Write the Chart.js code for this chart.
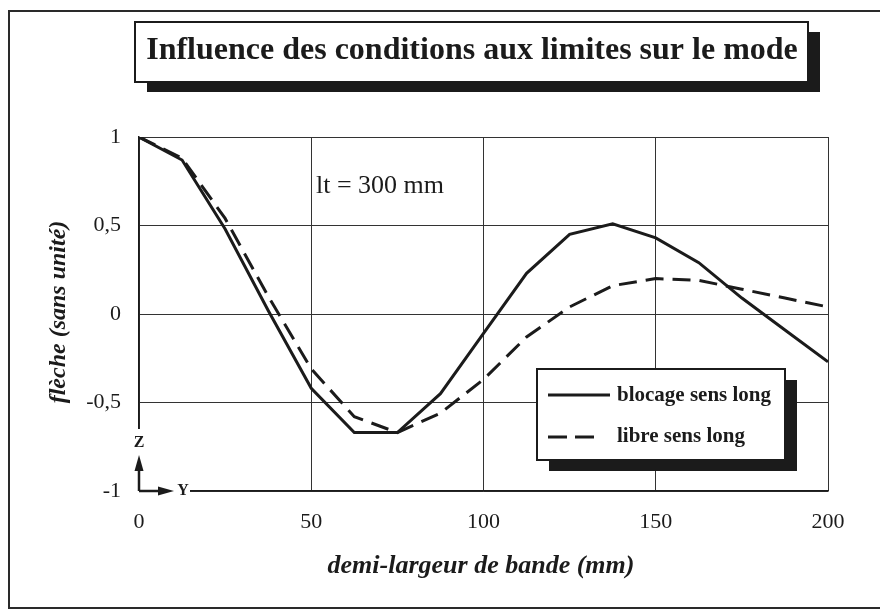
<!DOCTYPE html>
<html lang="fr">
<head>
<meta charset="utf-8">
<title>Influence des conditions aux limites sur le mode</title>
<script src="https://cdn.jsdelivr.net/npm/chart.js@4/dist/chart.umd.min.js"></script>
<style>
    html, body { margin: 0; padding: 0; background: #fff; }
    #wrap { width: 880px; height: 612px; position: relative; }
</style>
</head>
<body>
<div id="wrap"><canvas id="modeChart" width="880" height="612"></canvas></div>
<script>
// abscisses : demi-largeur de bande (mm)
const positions = [0, 12.5, 25, 37.5, 50, 62.5, 75, 87.5, 100, 112.5, 125, 137.5, 150, 162.5, 175, 187.5, 200];
// flèche normalisée, blocage sens long
const blocage = [1, 0.87, 0.48, 0.02, -0.42, -0.67, -0.67, -0.45, -0.11, 0.23, 0.45, 0.51, 0.43, 0.29, 0.09, -0.09, -0.27];
// flèche normalisée, libre sens long
const libre = [1, 0.88, 0.54, 0.1, -0.31, -0.58, -0.67, -0.56, -0.37, -0.13, 0.04, 0.16, 0.2, 0.19, 0.14, 0.09, 0.04];

const xTicks = [0, 50, 100, 150, 200];
const yTicks = [-1, -0.5, 0, 0.5, 1];

const titre = 'Influence des conditions aux limites sur le mode';
const titreX = 'demi-largeur de bande (mm)';
const titreY = 'flèche (sans unité)';
const note = 'lt = 300 mm';
const legende = ['blocage sens long', 'libre sens long'];

const SERIF = '"Liberation Serif", "Times New Roman", serif';
const INK = '#1b1b1b';

// boîte avec ombre portée
function boiteOmbre(ctx, x, y, w, h, dx, dy) {
    ctx.fillStyle = INK;
    ctx.fillRect(x + dx, y + dy, w, h);
    ctx.fillStyle = '#fff';
    ctx.fillRect(x, y, w, h);
    ctx.strokeStyle = INK;
    ctx.lineWidth = 2;
    ctx.strokeRect(x, y, w, h);
}

function fleche(ctx, x1, y1, x2, y2) {
    const a = Math.atan2(y2 - y1, x2 - x1);
    const L = 16, W = 4.5;
    ctx.strokeStyle = INK;
    ctx.lineWidth = 2.5;
    ctx.beginPath();
    ctx.moveTo(x1, y1);
    ctx.lineTo(x2 - Math.cos(a) * L * 0.8, y2 - Math.sin(a) * L * 0.8);
    ctx.stroke();
    ctx.fillStyle = INK;
    ctx.beginPath();
    ctx.moveTo(x2, y2);
    ctx.lineTo(x2 - Math.cos(a) * L - Math.sin(a) * W, y2 - Math.sin(a) * L + Math.cos(a) * W);
    ctx.lineTo(x2 - Math.cos(a) * L + Math.sin(a) * W, y2 - Math.sin(a) * L - Math.cos(a) * W);
    ctx.closePath();
    ctx.fill();
}

const habillage = {
    id: 'habillage',
    beforeDraw(chart) {
        const ctx = chart.ctx;
        ctx.save();
        ctx.fillStyle = '#fff';
        ctx.fillRect(0, 0, chart.width, chart.height);
        // cadre extérieur
        ctx.strokeStyle = '#2a2a2a';
        ctx.lineWidth = 2;
        ctx.beginPath();
        ctx.moveTo(880, 11);
        ctx.lineTo(9, 11);
        ctx.lineTo(9, 608);
        ctx.lineTo(880, 608);
        ctx.stroke();
        ctx.restore();
    },
    afterDraw(chart) {
        const ctx = chart.ctx;
        const xs = chart.scales.x, ys = chart.scales.y;
        ctx.save();

        // titre encadré
        boiteOmbre(ctx, 135, 22, 673, 60, 12, 10);
        ctx.fillStyle = INK;
        ctx.font = 'bold 32px ' + SERIF;
        ctx.textAlign = 'center';
        ctx.textBaseline = 'middle';
        ctx.fillText(titre, 472, 51);

        // titres des axes
        ctx.font = 'italic bold 26px ' + SERIF;
        ctx.fillText(titreX, 481, 566);
        ctx.save();
        ctx.translate(59, 312);
        ctx.rotate(-Math.PI / 2);
        ctx.font = 'italic bold 24px ' + SERIF;
        ctx.fillText(titreY, 0, 0);
        ctx.restore();

        // annotation
        ctx.font = '26px ' + SERIF;
        ctx.textAlign = 'left';
        ctx.fillText(note, 316, 186);

        // repère Y/Z dans le coin
        const x0 = xs.getPixelForValue(0), y0 = ys.getPixelForValue(-1);
        ctx.fillStyle = '#fff';
        ctx.fillRect(x0 - 3, 429, 6, y0 - 429 + 3);
        ctx.fillRect(x0 - 3, y0 - 3, 193 - x0, 6);
        fleche(ctx, x0, y0, x0, 455);
        fleche(ctx, x0, y0, 174, y0);
        ctx.fillStyle = INK;
        ctx.font = 'bold 16px ' + SERIF;
        ctx.textAlign = 'center';
        ctx.fillText('Z', x0, 443);
        ctx.fillText('Y', 183, y0);

        // légende
        boiteOmbre(ctx, 537, 369, 248, 91, 12, 11);
        ctx.lineWidth = 3;
        ctx.strokeStyle = INK;
        ctx.beginPath();
        ctx.moveTo(548, 395);
        ctx.lineTo(610, 395);
        ctx.stroke();
        ctx.setLineDash([19, 8]);
        ctx.beginPath();
        ctx.moveTo(548, 437);
        ctx.lineTo(600, 437);
        ctx.stroke();
        ctx.setLineDash([]);
        ctx.fillStyle = INK;
        ctx.font = 'bold 21px ' + SERIF;
        ctx.textAlign = 'left';
        ctx.fillText(legende[0], 617, 396);
        ctx.fillText(legende[1], 617, 437);

        ctx.restore();
    }
};

document.addEventListener('DOMContentLoaded', function() {
    const ctx = document.getElementById('modeChart').getContext('2d');

    new Chart(ctx, {
        type: 'line',
        data: {
            datasets: [{
                label: legende[0],
                data: positions.map((x, i) => ({ x: x, y: blocage[i] })),
                borderColor: INK,
                borderWidth: 3,
                pointRadius: 0,
                tension: 0
            }, {
                label: legende[1],
                data: positions.map((x, i) => ({ x: x, y: libre[i] })),
                borderColor: INK,
                borderWidth: 3,
                borderDash: [18, 9],
                pointRadius: 0,
                tension: 0
            }]
        },
        options: {
            responsive: false,
            animation: false,
            layout: { padding: { left: 0, top: 137, right: 52, bottom: 0 } },
            plugins: {
                legend: { display: false },
                tooltip: { enabled: false }
            },
            scales: {
                x: {
                    type: 'linear',
                    min: 0,
                    max: 200,
                    afterFit: s => { s.height = 121; },
                    afterBuildTicks: s => { s.ticks = xTicks.map(v => ({ value: v })); },
                    grid: { color: '#333', lineWidth: 1, drawTicks: false },
                    border: { color: INK, width: 1.5 },
                    ticks: {
                        padding: 18,
                        color: INK,
                        font: { family: SERIF, size: 22 },
                        maxRotation: 0
                    }
                },
                y: {
                    min: -1,
                    max: 1,
                    afterFit: s => { s.width = 139; },
                    afterBuildTicks: s => { s.ticks = yTicks.map(v => ({ value: v })); },
                    grid: { color: '#333', lineWidth: 1, drawTicks: false },
                    border: { color: INK, width: 1.5 },
                    ticks: {
                        padding: 18,
                        color: INK,
                        font: { family: SERIF, size: 22 },
                        callback: v => String(v).replace('.', ',')
                    }
                }
            }
        },
        plugins: [habillage]
    });
});
</script>
</body>
</html>
